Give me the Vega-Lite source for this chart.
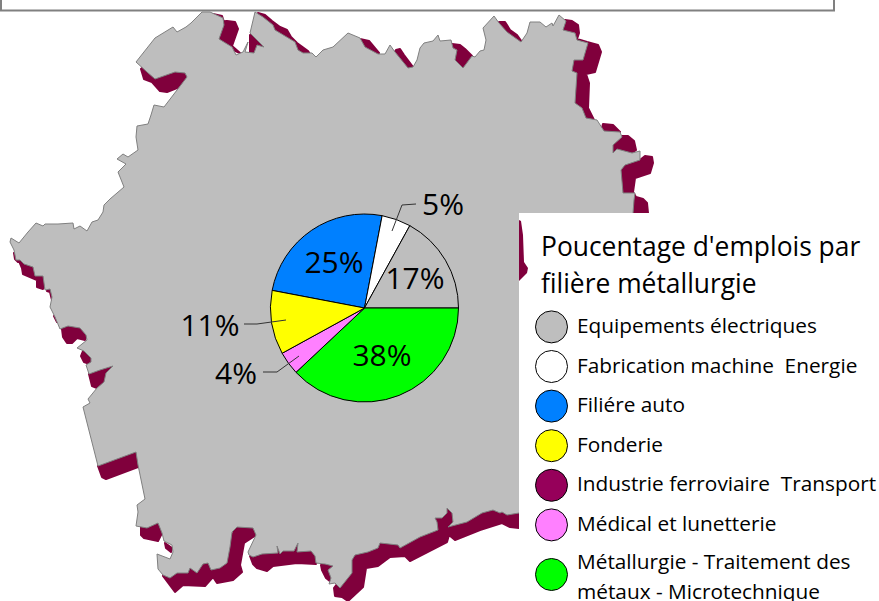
{
"$schema":"https://vega.github.io/schema/vega-lite/v6.json",
"width":879,"height":601,"padding":0,"autosize":{"type":"none"},
"background":"white",
"projection":{"type":"identity","scale":1,"translate":[0,0]},
"layer":[
{"data":{"values":[{"nom":"Industrie ferroviaire  Transport","geometry":{"type":"MultiPolygon","coordinates":[
[[[141,69],[144,79],[152,82],[160,91],[167,92],[182,86],[189,77],[175,60],[150,60],[141,69]]],
[[[227,21],[235,22],[238,29],[232,46],[240,53],[210,40],[215,22],[227,21]]],
[[[213,14],[222,16],[224,22],[215,20],[213,14]]],
[[[256,37],[264,41],[265,47],[256,54],[250,54],[250,35],[256,37]]],
[[[258,13],[265,15],[272,21],[280,27],[287,30],[291,37],[297,43],[308,51],[310,54],[296,50],[270,30],[258,13]]],
[[[360,39],[369,41],[374,47],[379,53],[370,55],[358,45],[360,39]]],
[[[396,50],[400,49],[404,55],[413,67],[405,70],[393,55],[396,50]]],
[[[452,44],[460,45],[465,49],[472,56],[469,64],[463,69],[450,65],[448,50],[452,44]]],
[[[499,22],[505,22],[510,30],[517,35],[522,42],[515,42],[498,28],[499,22]]],
[[[565,20],[572,21],[578,25],[579,33],[577,39],[587,42],[598,45],[601,52],[595,72],[586,74],[589,83],[588,108],[594,120],[570,120],[560,60],[565,20]]],
[[[603,124],[613,125],[620,132],[600,135],[603,124]]],
[[[622,136],[628,136],[634,141],[636,150],[632,153],[610,155],[610,140],[622,136]]],
[[[640,160],[645,156],[652,157],[653,163],[650,173],[635,178],[633,192],[636,197],[643,199],[647,203],[648,213],[648,250],[620,250],[615,165],[640,160]]],
[[[14,253],[18,256],[18,262],[15,259],[14,253]]],
[[[19,261],[22,268],[23,274],[30,277],[37,280],[37,287],[43,289],[50,280],[35,258],[19,261]]],
[[[47,291],[50,292],[52,300],[56,295],[52,285],[47,291]]],
[[[54,316],[57,322],[60,320],[57,312],[54,316]]],
[[[62,329],[63,337],[67,343],[72,343],[77,338],[85,340],[87,335],[80,325],[65,325],[62,329]]],
[[[81,356],[84,362],[90,364],[91,358],[83,351],[81,356]]],
[[[89,374],[92,386],[97,388],[104,382],[106,373],[113,366],[100,370],[89,374]]],
[[[98,466],[136,452],[138,467],[106,479],[102,477],[98,466]]],
[[[141,527],[158,522],[162,533],[158,541],[144,538],[141,535],[141,527]]],
[[[165,543],[172,548],[171,552],[166,548],[165,543]]],
[[[163,576],[175,592],[183,585],[205,586],[213,577],[217,583],[233,580],[242,572],[240,565],[244,543],[256,535],[253,526],[237,525],[225,550],[170,560],[163,576]]],
[[[250,556],[253,564],[257,568],[267,571],[273,566],[297,563],[316,564],[320,550],[270,540],[250,556]]],
[[[321,565],[322,570],[326,578],[331,582],[335,565],[321,565]]],
[[[334,588],[335,596],[342,597],[348,601],[363,587],[366,568],[378,566],[390,557],[405,556],[410,561],[447,542],[449,535],[455,540],[480,530],[502,523],[510,527],[519,528],[519,505],[455,505],[430,515],[380,535],[340,560],[340,580],[334,588]]]
]}}]},
"mark":{"type":"geoshape","fill":"#80003c","stroke":"#80003c","strokeWidth":2,"strokeJoin":"round"},
"encoding":{"shape":{"field":"geometry","type":"geojson"}}},
{"data":{"values":[{"nom":"Equipements électriques","geometry":{"type":"Polygon","coordinates":[[[202,12],[210,12],[223,18],[224,25],[219,39],[232,47],[236,55],[243,52],[248,42],[245,52],[254,53],[257,45],[264,47],[257,40],[250,33],[255,12],[263,17],[273,25],[275,30],[280,33],[295,42],[298,50],[303,53],[312,53],[316,57],[323,50],[333,47],[348,33],[360,38],[365,47],[378,54],[385,54],[390,45],[395,52],[408,68],[413,67],[417,60],[420,48],[424,43],[433,41],[438,35],[440,41],[451,40],[453,48],[457,50],[455,60],[463,68],[472,56],[475,57],[480,51],[484,50],[486,40],[483,28],[494,16],[499,23],[507,32],[521,42],[527,33],[530,22],[540,22],[546,27],[552,23],[553,26],[559,15],[566,21],[563,30],[575,33],[577,40],[588,43],[583,60],[574,60],[572,71],[577,73],[575,103],[582,108],[586,118],[597,120],[604,131],[620,132],[622,137],[613,145],[613,153],[617,149],[632,153],[640,151],[640,160],[625,165],[621,170],[623,193],[635,193],[634,200],[633,213],[633,300],[540,500],[519,513],[507,515],[502,512],[500,513],[493,510],[482,513],[467,522],[448,527],[453,522],[452,513],[447,508],[447,513],[442,518],[435,518],[437,522],[438,530],[420,537],[400,548],[398,545],[380,543],[378,548],[368,552],[355,555],[352,560],[352,573],[340,588],[335,583],[329,584],[331,578],[328,570],[333,566],[325,564],[316,563],[315,556],[311,551],[297,552],[298,543],[294,551],[283,551],[280,554],[277,546],[278,553],[262,554],[253,557],[249,555],[248,552],[256,535],[253,528],[237,527],[232,532],[230,547],[227,563],[220,568],[211,570],[208,563],[203,564],[197,573],[190,568],[188,573],[177,573],[170,578],[163,575],[158,569],[157,554],[170,559],[173,552],[172,545],[164,541],[162,533],[158,523],[147,528],[136,526],[138,512],[137,505],[145,499],[138,465],[136,452],[98,466],[83,407],[90,403],[88,399],[97,388],[104,382],[106,373],[113,366],[100,370],[89,374],[86,365],[91,362],[91,358],[84,351],[77,348],[87,340],[86,335],[80,328],[68,326],[60,329],[55,317],[50,307],[52,297],[50,289],[45,290],[43,276],[35,276],[33,267],[24,264],[20,260],[16,260],[14,250],[10,242],[11,238],[19,243],[28,232],[36,223],[43,226],[45,224],[58,224],[73,223],[74,229],[80,226],[87,231],[92,222],[98,220],[103,212],[104,205],[110,199],[124,187],[118,172],[126,164],[117,159],[123,154],[128,157],[138,150],[136,137],[137,126],[148,124],[151,115],[154,105],[164,107],[187,77],[185,73],[175,72],[155,79],[147,72],[136,62],[155,38],[173,27],[177,32],[186,27],[191,23],[202,12]]]}}]},
"mark":{"type":"geoshape","fill":"#bebebe","stroke":"#808080","strokeWidth":1},
"encoding":{"shape":{"field":"geometry","type":"geojson"}}},
{"data":{"values":[{"nom":"cadre légende","geometry":{"type":"Polygon","coordinates":[[[519,213],[879,213],[879,601],[519,601],[519,213]]]}}]},
"mark":{"type":"geoshape","fill":"white","stroke":null},
"encoding":{"shape":{"field":"geometry","type":"geojson"}}},
{"data":{"values":[{"nom":"Industrie ferroviaire  Transport","geometry":{"type":"Polygon","coordinates":[[[519,220],[521,221],[523,235],[524,262],[528,268],[527,273],[519,281],[519,220]]]}}]},
"mark":{"type":"geoshape","fill":"#80003c","stroke":null},
"encoding":{"shape":{"field":"geometry","type":"geojson"}}},
{"data":{"values":[{"nom":"cadre titre","geometry":{"type":"Polygon","coordinates":[[[1,-5],[834,-5],[834,10.5],[1,10.5],[1,-5]]]}}]},
"mark":{"type":"geoshape","fill":"white","stroke":"#808080","strokeWidth":2},
"encoding":{"shape":{"field":"geometry","type":"geojson"}}},
{"data":{"values":[
{"filiere":"Filiére auto","pct":25,"rang":1},
{"filiere":"Fabrication machine\u00a0 Energie","pct":5,"rang":2},
{"filiere":"Equipements électriques","pct":17,"rang":3},
{"filiere":"Métallurgie - Traitement des métaux - Microtechnique","pct":38,"rang":4},
{"filiere":"Médical et lunetterie","pct":4,"rang":5},
{"filiere":"Fonderie","pct":11,"rang":6}
]},
"mark":{"type":"arc","outerRadius":94,"stroke":"black","strokeWidth":1},
"encoding":{
"longitude":{"datum":364.5},
"latitude":{"datum":308},
"theta":{"field":"pct","type":"quantitative","stack":true,"scale":{"range":[-1.382,4.901]}},
"order":{"field":"rang","type":"ordinal"},
"color":{"field":"filiere","type":"nominal","scale":{
"domain":["Equipements électriques","Fabrication machine\u00a0 Energie","Filiére auto","Fonderie","Industrie ferroviaire\u00a0 Transport","Médical et lunetterie","Métallurgie - Traitement des métaux - Microtechnique"],
"range":["#bebebe","#ffffff","#0080ff","#ffff00","#96005a","#ff80ff","#00ff00"]},
"legend":{"orient":"none","legendX":535,"legendY":235,"padding":0,
"title":["Poucentage d'emplois par","filière métallurgie"],
"titleFont":"Open Sans","titleFontSize":26.4,"titleFontWeight":"normal","titleColor":"black","titleLineHeight":37,"titlePadding":12,"titleLimit":400,
"labelFont":"Open Sans","labelFontSize":20.8,"labelColor":"black","labelLimit":400,"labelOffset":9,"labelBaseline":"middle",
"symbolType":"circle","symbolSize":1024,"symbolStrokeColor":"black","symbolStrokeWidth":1,"rowPadding":2.6,
"labelExpr":"datum.label == 'Métallurgie - Traitement des métaux - Microtechnique' ? ['Métallurgie - Traitement des','métaux - Microtechnique'] : datum.label",
"encode":{"title":{"update":{"dx":{"value":6}}},"labels":{"update":{"lineHeight":{"value":30}}},"symbols":{"update":{"y":{"signal":"datum.value == 'Métallurgie - Traitement des métaux - Microtechnique' ? 28.5 : 16.5"}}}}}}
}},
{"data":{"values":[
{"nom":"amorce 5%","geometry":{"type":"LineString","coordinates":[[392,231],[402,205],[416,204]]}},
{"nom":"amorce 11%","geometry":{"type":"LineString","coordinates":[[244,324],[257,324],[286,320]]}},
{"nom":"amorce 4%","geometry":{"type":"LineString","coordinates":[[263,372],[277,372],[299,356]]}}
]},
"mark":{"type":"geoshape","filled":false,"stroke":"#333333","strokeWidth":1},
"encoding":{"shape":{"field":"geometry","type":"geojson"}}},
{"data":{"values":[
{"t":"25%","lon":334,"lat":262},
{"t":"5%","lon":443,"lat":204},
{"t":"17%","lon":415,"lat":278},
{"t":"38%","lon":382,"lat":355},
{"t":"4%","lon":236,"lat":373},
{"t":"11%","lon":210,"lat":325}
]},
"mark":{"type":"text","font":"Open Sans","fontSize":30,"color":"black","align":"center","baseline":"middle","dy":1.5},
"encoding":{
"longitude":{"field":"lon","type":"quantitative"},
"latitude":{"field":"lat","type":"quantitative"},
"text":{"field":"t","type":"nominal"}}}
],
"config":{"view":{"stroke":null}}
}
